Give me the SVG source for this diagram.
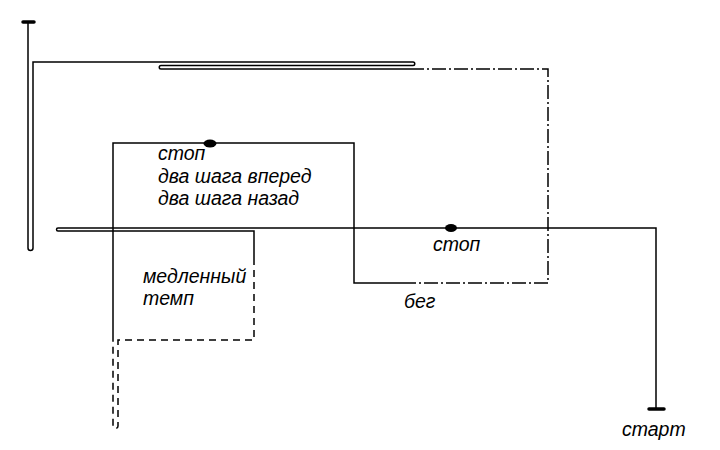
<svg xmlns="http://www.w3.org/2000/svg" width="720" height="450" viewBox="0 0 720 450">
<style>
.ln{fill:none;stroke:#000;stroke-width:1.5}
.dash{stroke-dasharray:7 5}
.dd{stroke-dasharray:14 3 2 3}
.tick{stroke:#000;stroke-width:3.5;stroke-linecap:round}
.t{font-family:"Liberation Sans",Arial,sans-serif;font-style:italic;font-size:19.5px;fill:#000}
</style>
<rect width="720" height="450" fill="#fff"/>
<g id="connectors">
<path class="ln" d="M656,409 V228 H58 A1.5,1.5 0 0 0 58,231 H254 V258"/>
<path class="ln dash" d="M254,258 V340 H118 V426 A2.5,2.5 0 0 1 113,426 V340"/>
<path class="ln" d="M113,340 V143 H354 V283 H402"/>
<path class="ln dd" d="M402,283 H548 V69 H410"/>
<path class="ln" d="M410,69 H161 A1.75,1.75 0 0 1 161,65.5 H413 A1.75,1.75 0 0 0 413,62 H33 V248 A2.5,2.5 0 0 1 28,248 V22"/>
</g>
<g id="start">
<line class="tick" x1="649" y1="409" x2="664" y2="409"/>
<text class="t" x="622" y="436">старт</text>
</g>
<g id="end">
<line class="tick" x1="23" y1="22" x2="34" y2="22"/>
</g>
<g id="stop1">
<ellipse cx="210" cy="143.5" rx="6.5" ry="4"/>
<text class="t" x="158" y="160">стоп</text>
<text class="t" x="158" y="183">два шага вперед</text>
<text class="t" x="158" y="205">два шага назад</text>
</g>
<g id="stop2">
<ellipse cx="451" cy="228" rx="6" ry="4"/>
<text class="t" x="433" y="251">стоп</text>
</g>
<g id="run">
<text class="t" x="404" y="308">бег</text>
</g>
<g id="slow">
<text class="t" x="143" y="283">медленный</text>
<text class="t" x="143" y="305">темп</text>
</g>
</svg>
